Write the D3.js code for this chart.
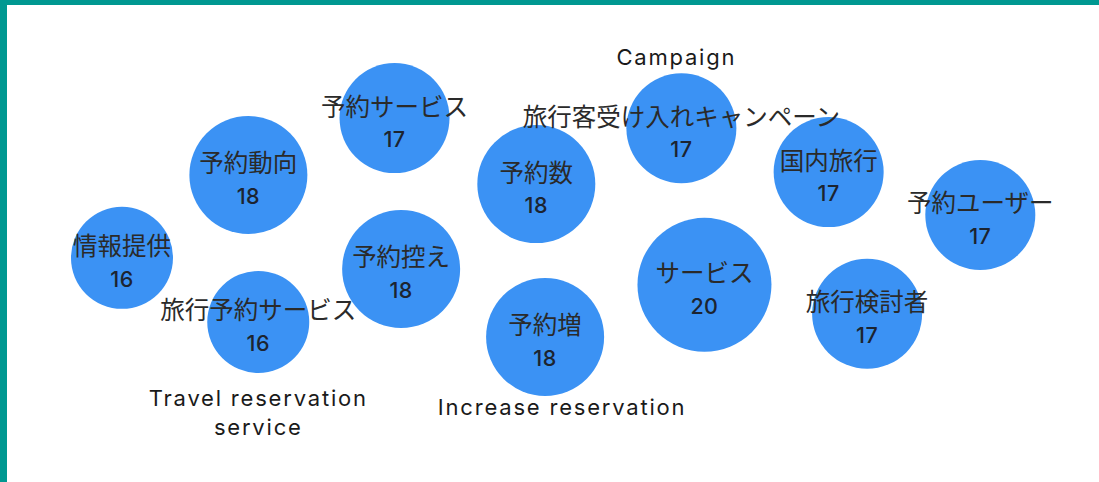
<!DOCTYPE html>
<html>
<head>
<meta charset="utf-8">
<script src="https://cdn.jsdelivr.net/npm/d3@7/dist/d3.min.js"></script>
<style>
  html, body { margin: 0; padding: 0; background: #fff; }
  svg { display: block; }
</style>
</head>
<body>
<svg id="chart" width="1099" height="482"></svg>
<script>
// ---- data ----
const labels = ["情報提供", "予約動向", "予約サービス", "予約数", "旅行客受け入れキャンペーン", "国内旅行",
                "予約ユーザー", "予約控え", "旅行予約サービス", "予約増", "サービス", "旅行検討者"];
const values = [16, 18, 17, 18, 17, 17, 17, 18, 16, 18, 20, 17];
// bubble positions in layout units (percent of width / height)
const xPos = [11.1, 22.6, 35.9, 48.8, 62.0, 75.4, 89.2, 36.5, 23.5, 49.6, 64.1, 78.9];
const yPos = [53.5, 36.3, 24.5, 38.2, 26.6, 35.7, 44.6, 55.8, 66.8, 69.9, 59.1, 65.1];
// English translation notes attached to bubbles
const noteIndex = [4, 8, 9];
const noteLines = [["Campaign"], ["Travel reservation", "service"], ["Increase reservation"]];
const noteSide = ["above", "below", "below"];

// ---- drawing ----
const W = 1099, H = 482;
const svg = d3.select("#chart");

svg.append("rect").attr("x", 0).attr("y", 0).attr("width", W).attr("height", H).attr("fill", "#ffffff");
// teal frame (left and top)
svg.append("rect").attr("x", 0).attr("y", 0).attr("width", 7).attr("height", H).attr("fill", "#009891");
svg.append("rect").attr("x", 0).attr("y", 0).attr("width", W).attr("height", 5).attr("fill", "#009891");

const x = d3.scaleLinear().domain([0, 100]).range([0, W]);
const y = d3.scaleLinear().domain([0, 100]).range([0, H]);
const r = d3.scaleLinear().domain([16, 20]).range([51, 67]);

const data = labels.map((l, i) => ({ label: l, value: values[i], x: xPos[i], y: yPos[i] }));

svg.append("g").selectAll("circle").data(data).join("circle")
  .attr("cx", d => x(d.x))
  .attr("cy", d => y(d.y))
  .attr("r", d => r(d.value))
  .attr("fill", "#3b92f4");

const tg = svg.append("g");
tg.selectAll("text.lab").data(data).join("text")
  .attr("class", "lab")
  .attr("x", d => x(d.x))
  .attr("y", d => y(d.y) - 13)
  .attr("text-anchor", "middle")
  .attr("dominant-baseline", "central")
  .attr("font-family", "'Noto Sans CJK JP', sans-serif")
  .attr("font-size", 24.5)
  .attr("fill", "#2a2a2a")
  .text(d => d.label);

tg.selectAll("text.val").data(data).join("text")
  .attr("class", "val")
  .attr("x", d => x(d.x))
  .attr("y", d => y(d.y) + 21)
  .attr("text-anchor", "middle")
  .attr("dominant-baseline", "central")
  .attr("font-family", "Inter, sans-serif")
  .attr("font-size", 21.5)
  .attr("font-weight", 500)
  .attr("letter-spacing", 0.5)
  .attr("fill", "#1c2430")
  .text(d => d.value);

const notes = noteIndex.map((idx, k) => ({ d: data[idx], lines: noteLines[k], side: noteSide[k], k }));
const noteDx = [-5, 0, 17];
const noteGap = [16, 25, 11];
const ng = svg.append("g");
notes.forEach(n => {
  const cx = x(n.d.x) + noteDx[n.k];
  const cy = y(n.d.y);
  const rr = r(n.d.value);
  const startY = n.side === "above" ? cy - rr - noteGap[n.k] : cy + rr + noteGap[n.k];
  n.lines.forEach((line, j) => {
    ng.append("text")
      .attr("x", cx)
      .attr("y", startY + j * 29)
      .attr("text-anchor", "middle")
      .attr("dominant-baseline", "central")
      .attr("font-family", "Inter, sans-serif")
      .attr("font-size", 22)
      .attr("letter-spacing", 1.8)
      .attr("fill", "#1a1a1a")
      .text(line);
  });
});
</script>
</body>
</html>
